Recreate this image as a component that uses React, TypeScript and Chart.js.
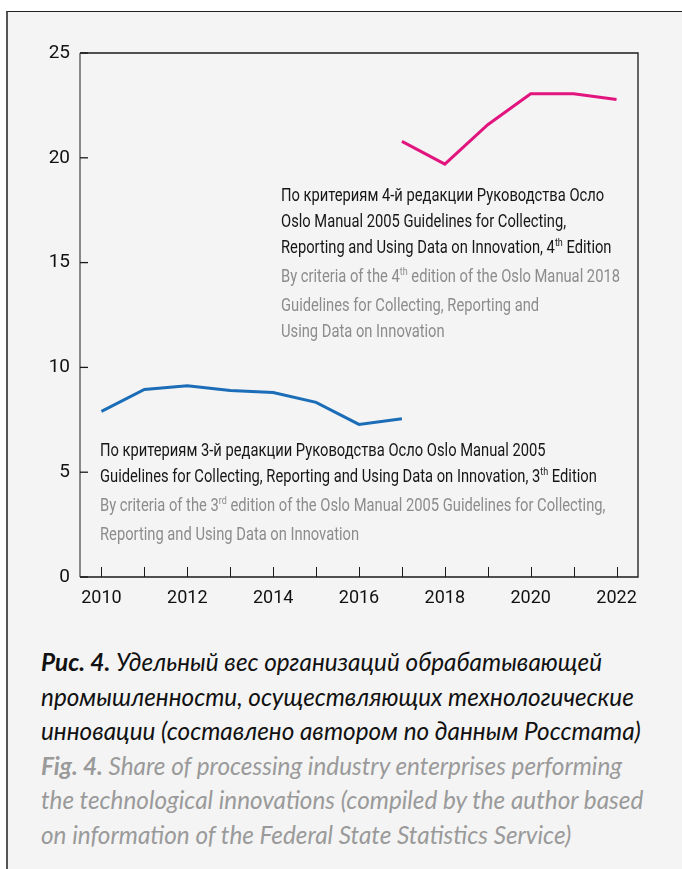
import React, { useEffect, useRef } from "react";
import { Chart, registerables } from "chart.js";

Chart.register(...registerables);

const years = ["2010", "2011", "2012", "2013", "2014", "2015", "2016", "2017", "2018", "2019", "2020", "2021", "2022"];
const edition3Values = [7.9, 8.95, 9.13, 8.9, 8.8, 8.33, 7.28, 7.55, null, null, null, null, null];
const edition4Values = [null, null, null, null, null, null, null, 20.78, 19.7, 21.58, 23.05, 23.05, 22.78];
const yTicks = [0, 5, 10, 15, 20, 25];

const edition4Ru = [
  "По критериям 4-й редакции Руководства Осло",
  "Oslo Manual 2005 Guidelines for Collecting,",
];
const edition4En = [
  "Guidelines for Collecting, Reporting and",
  "Using Data on Innovation",
];
const edition3Ru = ["По критериям 3-й редакции Руководства Осло Oslo Manual 2005"];
const edition3En = ["Reporting and Using Data on Innovation"];

const NARROW = 'Roboto, "Liberation Sans", sans-serif';
const CAPTION = 'Lato, "Open Sans", "Noto Sans", sans-serif';

const framePlugin = {
  id: "frame",
  afterDatasetsDraw(chart: any) {
    const { ctx, chartArea: a, scales } = chart;
    ctx.save();
    ctx.lineCap = "butt";
    ctx.strokeStyle = "#1a1a1a";
    ctx.lineWidth = 1.3;
    ctx.beginPath();
    ctx.moveTo(a.left, a.top);
    ctx.lineTo(a.right, a.top);
    ctx.lineTo(a.right, a.bottom);
    ctx.lineTo(a.left, a.bottom);
    ctx.stroke();
    ctx.strokeStyle = "#6e6e6e";
    ctx.lineWidth = 1.6;
    ctx.beginPath();
    ctx.moveTo(a.left, a.top);
    ctx.lineTo(a.left, a.bottom);
    ctx.stroke();
    ctx.strokeStyle = "#1a1a1a";
    ctx.lineWidth = 1;
    for (let i = 0; i < years.length; i++) {
      const x = Math.round(scales.x.getPixelForValue(i)) + 0.5;
      ctx.beginPath();
      ctx.moveTo(x, a.bottom);
      ctx.lineTo(x, a.bottom - 10);
      ctx.stroke();
    }
    ctx.lineWidth = 1.3;
    for (const v of yTicks) {
      const y = scales.y.getPixelForValue(v);
      ctx.beginPath();
      ctx.moveTo(a.left, y);
      ctx.lineTo(a.left + 8, y);
      ctx.stroke();
    }
    ctx.restore();
  },
};

export default function App() {
  const ref = useRef<HTMLCanvasElement | null>(null);

  useEffect(() => {
    if (!ref.current) return;
    const chart = new Chart(ref.current, {
      type: "line",
      data: {
        labels: years,
        datasets: [
          {
            data: edition3Values,
            borderColor: "#1b6db8",
            borderWidth: 3,
            pointRadius: 0,
            tension: 0,
            spanGaps: false,
          },
          {
            data: edition4Values,
            borderColor: "#e2157f",
            borderWidth: 3,
            pointRadius: 0,
            tension: 0,
            spanGaps: false,
          },
        ],
      },
      options: {
        animation: false,
        responsive: false,
        events: [],
        layout: { padding: { top: 53, right: 44, bottom: 23, left: 0 } },
        plugins: { legend: { display: false }, tooltip: { enabled: false } },
        scales: {
          x: {
            type: "category",
            offset: true,
            grid: { display: false, drawTicks: false },
            border: { display: false },
            afterFit: (s: any) => { s.height = 40; },
            ticks: {
              autoSkip: false,
              maxRotation: 0,
              padding: 11,
              color: "#111",
              font: { family: NARROW, size: 18 },
              callback: (_v: any, i: number) => (Number(years[i]) % 2 === 0 ? years[i] : ""),
            },
          },
          y: {
            min: 0,
            max: 25,
            afterFit: (s: any) => { s.width = 80; },
            grid: { display: false, drawTicks: false },
            border: { display: false },
            afterBuildTicks: (s: any) => { s.ticks = yTicks.map((v) => ({ value: v })); },
            ticks: {
              padding: 10,
              color: "#111",
              font: { family: NARROW, size: 19 },
            },
          },
        },
      },
      plugins: [framePlugin],
    });
    return () => chart.destroy();
  }, []);

  const annStyle: React.CSSProperties = {
    position: "absolute",
    fontFamily: NARROW,
    fontSize: 18,
    lineHeight: "26px",
    whiteSpace: "nowrap",
    transform: "scaleX(0.818)",
    transformOrigin: "0 0",
  };
  const sup: React.CSSProperties = { fontSize: 11, verticalAlign: 0, position: "relative", top: -7 };
  const dark = "#161616";
  const gray = "#8c8c8c";

  return (
    <div style={{ position: "absolute", left: 0, top: 0, width: 682, height: 869, background: "#fff", overflow: "hidden" }}>
      <div
        style={{
          position: "absolute",
          left: 6,
          top: 11,
          width: 676,
          height: 858,
          background: "#f4f4f4",
          borderTop: "1px solid #222",
          borderLeft: "2px solid #555",
          boxSizing: "border-box",
        }}
      />
      <canvas ref={ref} width={682} height={640} style={{ position: "absolute", left: 0, top: 0, width: 682, height: 640 }} />

      <div style={{ ...annStyle, left: 281, top: 182 }}>
        {edition4Ru.map((l) => (
          <div key={l} style={{ color: dark }}>{l}</div>
        ))}
        <div style={{ color: dark }}>
          Reporting and Using Data on Innovation, 4<span style={sup}>th</span> Edition
        </div>
        <div style={{ color: gray }}>
          By criteria of the 4<span style={sup}>th</span> edition of the Oslo Manual 2018
        </div>
        {edition4En.map((l) => (
          <div key={l} style={{ color: gray }}>{l}</div>
        ))}
      </div>

      <div style={{ ...annStyle, left: 100, top: 437 }}>
        {edition3Ru.map((l) => (
          <div key={l} style={{ color: dark }}>{l}</div>
        ))}
        <div style={{ color: dark }}>
          Guidelines for Collecting, Reporting and Using Data on Innovation, 3<span style={sup}>th</span> Edition
        </div>
        <div style={{ color: gray }}>
          By criteria of the 3<span style={sup}>rd</span> edition of the Oslo Manual 2005 Guidelines for Collecting,
        </div>
        {edition3En.map((l) => (
          <div key={l} style={{ color: gray }}>{l}</div>
        ))}
      </div>

      <div
        style={{
          position: "absolute",
          left: 41,
          top: 645,
          fontFamily: CAPTION,
          fontStyle: "italic",
          fontSize: 24.3,
          lineHeight: "34.5px",
          whiteSpace: "nowrap",
        }}
      >
        <div style={{ color: "#111" }}>
          <b>Рис. 4.</b> Удельный вес организаций обрабатывающей
        </div>
        <div style={{ color: "#111" }}>промышленности, осуществляющих технологические</div>
        <div style={{ color: "#111" }}>инновации (составлено автором по данным Росстата)</div>
        <div style={{ color: "#9a9a9a" }}>
          <b>Fig. 4.</b> Share of processing industry enterprises performing
        </div>
        <div style={{ color: "#9a9a9a" }}>the technological innovations (compiled by the author based</div>
        <div style={{ color: "#9a9a9a" }}>on information of the Federal State Statistics Service)</div>
      </div>
    </div>
  );
}
